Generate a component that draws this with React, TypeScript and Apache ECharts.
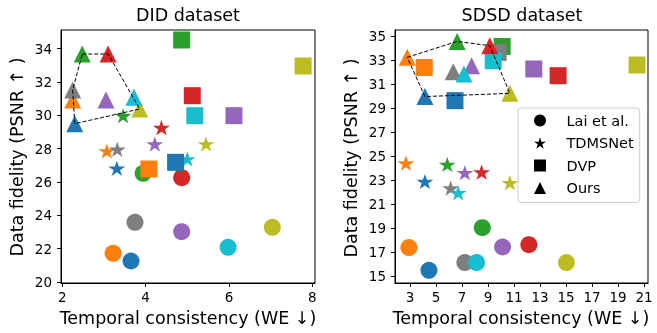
import { useEffect, useRef } from 'react';
import * as echarts from 'echarts';

// video colours (tab10 subset): blue, orange, green, red, purple, gray, olive, cyan
const videoColors = ['#1f77b4', '#ff7f0e', '#2ca02c', '#d62728', '#9467bd', '#7f7f7f', '#bcbd22', '#17becf'];
const methods = ['Lai et al.', 'TDMSNet', 'DVP', 'Ours'];

// DID dataset: [WE, PSNR] per video, in videoColors order
const didLai = [[3.65, 21.26], [3.22, 21.72], [3.94, 26.52], [4.865, 26.26], [4.865, 23.02], [3.745, 23.58], [7.04, 23.28], [5.98, 22.08]];
const didTDMS = [[3.31, 26.82], [3.07, 27.86], [3.46, 29.98], [4.38, 29.26], [4.22, 28.28], [3.32, 27.96], [5.45, 28.28], [5.0, 27.38]];
const didDVP = [[4.72, 27.18], [4.08, 26.78], [4.865, 34.52], [5.12, 31.18], [6.12, 29.98], null, [7.78, 32.96], [5.18, 29.98]];
const didOurs = [[2.3, 29.5], [2.25, 30.92], [2.48, 33.68], [3.1, 33.68], [3.05, 30.92], [2.25, 31.52], [3.86, 30.38], [3.72, 31.08]];
const didHull = [2, 3, 6, 0, 5, 2];

// SDSD dataset
const sdsdLai = [[4.46, 15.5], [2.92, 17.39], [8.56, 19.05], [12.14, 17.63], [10.12, 17.44], [7.22, 16.14], [15.03, 16.14], [8.12, 16.14]];
const sdsdTDMS = [[4.15, 22.9], [2.69, 24.43], [5.87, 24.32], [8.51, 23.68], [7.22, 23.63], [6.13, 22.35], [10.68, 22.8], [6.71, 21.96]];
const sdsdDVP = [[6.46, 29.64], [4.1, 32.41], [10.09, 34.16], [14.39, 31.72], [12.52, 32.28], [9.78, 33.66], [20.46, 32.61], [9.4, 32.97]];
const sdsdOurs = [[4.15, 29.98], [2.79, 33.25], [6.63, 34.58], [9.14, 34.22], [7.74, 32.55], [6.33, 32.05], [10.68, 30.25], [7.15, 31.86]];
const sdsdHull = [1, 2, 3, 6, 0, 1];

const didXTicks = [2, 4, 6, 8];
const didYTicks = [20, 22, 24, 26, 28, 30, 32, 34];
const sdsdXTicks = [3, 5, 7, 9, 11, 13, 15, 17, 19, 21];
const sdsdYTicks = [15, 17, 19, 21, 23, 25, 27, 29, 31, 33, 35];

const FONT = 'DejaVu Sans';
const starPath =
  'path://M0,-100L22.45,-30.9L95.11,-30.9L36.33,11.8L58.78,80.9L0,38.2L-58.78,80.9L-36.33,11.8L-95.11,-30.9L-22.45,-30.9Z';
const symbols = ['circle', starPath, 'rect', 'triangle'];
const sizes: any[] = [17, [17, 16], 17, 17];
const TICK_FS = 13.5;

function scatter(mi: number, pts: any[], g: number) {
  return {
    type: 'scatter',
    name: methods[mi],
    symbol: symbols[mi],
    symbolSize: sizes[mi],
    symbolKeepAspect: true,
    xAxisIndex: g,
    yAxisIndex: g,
    itemStyle: { color: '#000', opacity: 1 },
    emphasis: { disabled: true },
    data: pts
      .map((p, i) => (p ? { value: p, itemStyle: { color: videoColors[i] } } : null))
      .filter((d) => d !== null),
  };
}

function hullLine(ours: number[][], hull: number[], g: number) {
  return {
    type: 'line',
    xAxisIndex: g,
    yAxisIndex: g,
    symbol: 'none',
    silent: true,
    lineStyle: { color: '#000', width: 1, type: [4, 2] },
    data: hull.map((i) => ours[i]),
  };
}

function xAxis(g: number, min: number, max: number, ticks: number[]) {
  return {
    type: 'value',
    gridIndex: g,
    min,
    max,
    axisLine: { show: true, onZero: false, lineStyle: { color: '#000', width: 1 } },
    axisTick: { show: true, length: 4, lineStyle: { color: '#000' }, customValues: ticks },
    axisLabel: { customValues: ticks, fontSize: TICK_FS, color: '#000', fontFamily: FONT, margin: 7 },
    splitLine: { show: false },
  };
}
function yAxis(g: number, min: number, max: number, ticks: number[]) {
  return {
    type: 'value',
    gridIndex: g,
    min,
    max,
    axisLine: { show: true, onZero: false, lineStyle: { color: '#000', width: 1 } },
    axisTick: { show: true, length: 4, lineStyle: { color: '#000' }, customValues: ticks },
    axisLabel: { customValues: ticks, fontSize: TICK_FS, color: '#000', fontFamily: FONT, margin: 9 },
    splitLine: { show: false },
  };
}

function txt(text: string, x: number, y: number, size: number, rot = 0) {
  return {
    type: 'text',
    x,
    y,
    rotation: rot,
    style: { text, fontSize: size, fontFamily: FONT, fill: '#000', align: 'center', verticalAlign: 'middle' },
  };
}

export default function App() {
  const ref = useRef<HTMLDivElement>(null);
  useEffect(() => {
    const chart = echarts.init(ref.current!, undefined, { renderer: 'svg' });
    chart.setOption({
      animation: false,
      grid: [
        { left: 61, top: 30, width: 254, height: 253, show: true, borderColor: '#000', borderWidth: 1, backgroundColor: 'transparent' },
        { left: 395, top: 30, width: 253, height: 253, show: true, borderColor: '#000', borderWidth: 1, backgroundColor: 'transparent' },
      ],
      xAxis: [xAxis(0, 1.97, 8.065, didXTicks), xAxis(1, 1.85, 21.3, sdsdXTicks)],
      yAxis: [yAxis(0, 19.94, 35.12, didYTicks), yAxis(1, 14.44, 35.53, sdsdYTicks)],
      legend: {
        left: 518,
        top: 108,
        orient: 'vertical',
        itemWidth: 12,
        itemHeight: 12,
        itemGap: 5.5,
        padding: [4, 6, 6, 16],
        backgroundColor: 'rgba(255,255,255,0.85)',
        borderColor: '#ccc',
        borderWidth: 1,
        borderRadius: 3,
        selectedMode: false,
        itemStyle: { color: '#000' },
        textStyle: { fontSize: 14.5, lineHeight: 17, fontFamily: FONT, color: '#000', padding: [0, 0, 0, 15.5] },
        data: methods.map((m, i) => ({ name: m, icon: symbols[i] })),
      },
      graphic: [
        txt('DID dataset', 188, 14.5, 17.5),
        txt('SDSD dataset', 522, 14.5, 17.5),
        txt('Temporal consistency (WE \u2193)', 188, 318, 17.5),
        txt('Temporal consistency (WE \u2193)', 521, 318, 17.5),
        txt('Data fidelity (PSNR \u2191 )', 17, 157, 17.5, Math.PI / 2),
        txt('Data fidelity (PSNR \u2191 )', 350.5, 158, 17.5, Math.PI / 2),
      ],
      series: [
        scatter(0, didLai, 0),
        scatter(1, didTDMS, 0),
        scatter(2, didDVP, 0),
        scatter(3, didOurs, 0),
        hullLine(didOurs, didHull, 0),
        scatter(0, sdsdLai, 1),
        scatter(1, sdsdTDMS, 1),
        scatter(2, sdsdDVP, 1),
        scatter(3, sdsdOurs, 1),
        hullLine(sdsdOurs, sdsdHull, 1),
      ],
    });
    return () => chart.dispose();
  }, []);
  return <div ref={ref} style={{ position: 'fixed', left: 0, top: 0, width: 657, height: 333 }} />;
}
